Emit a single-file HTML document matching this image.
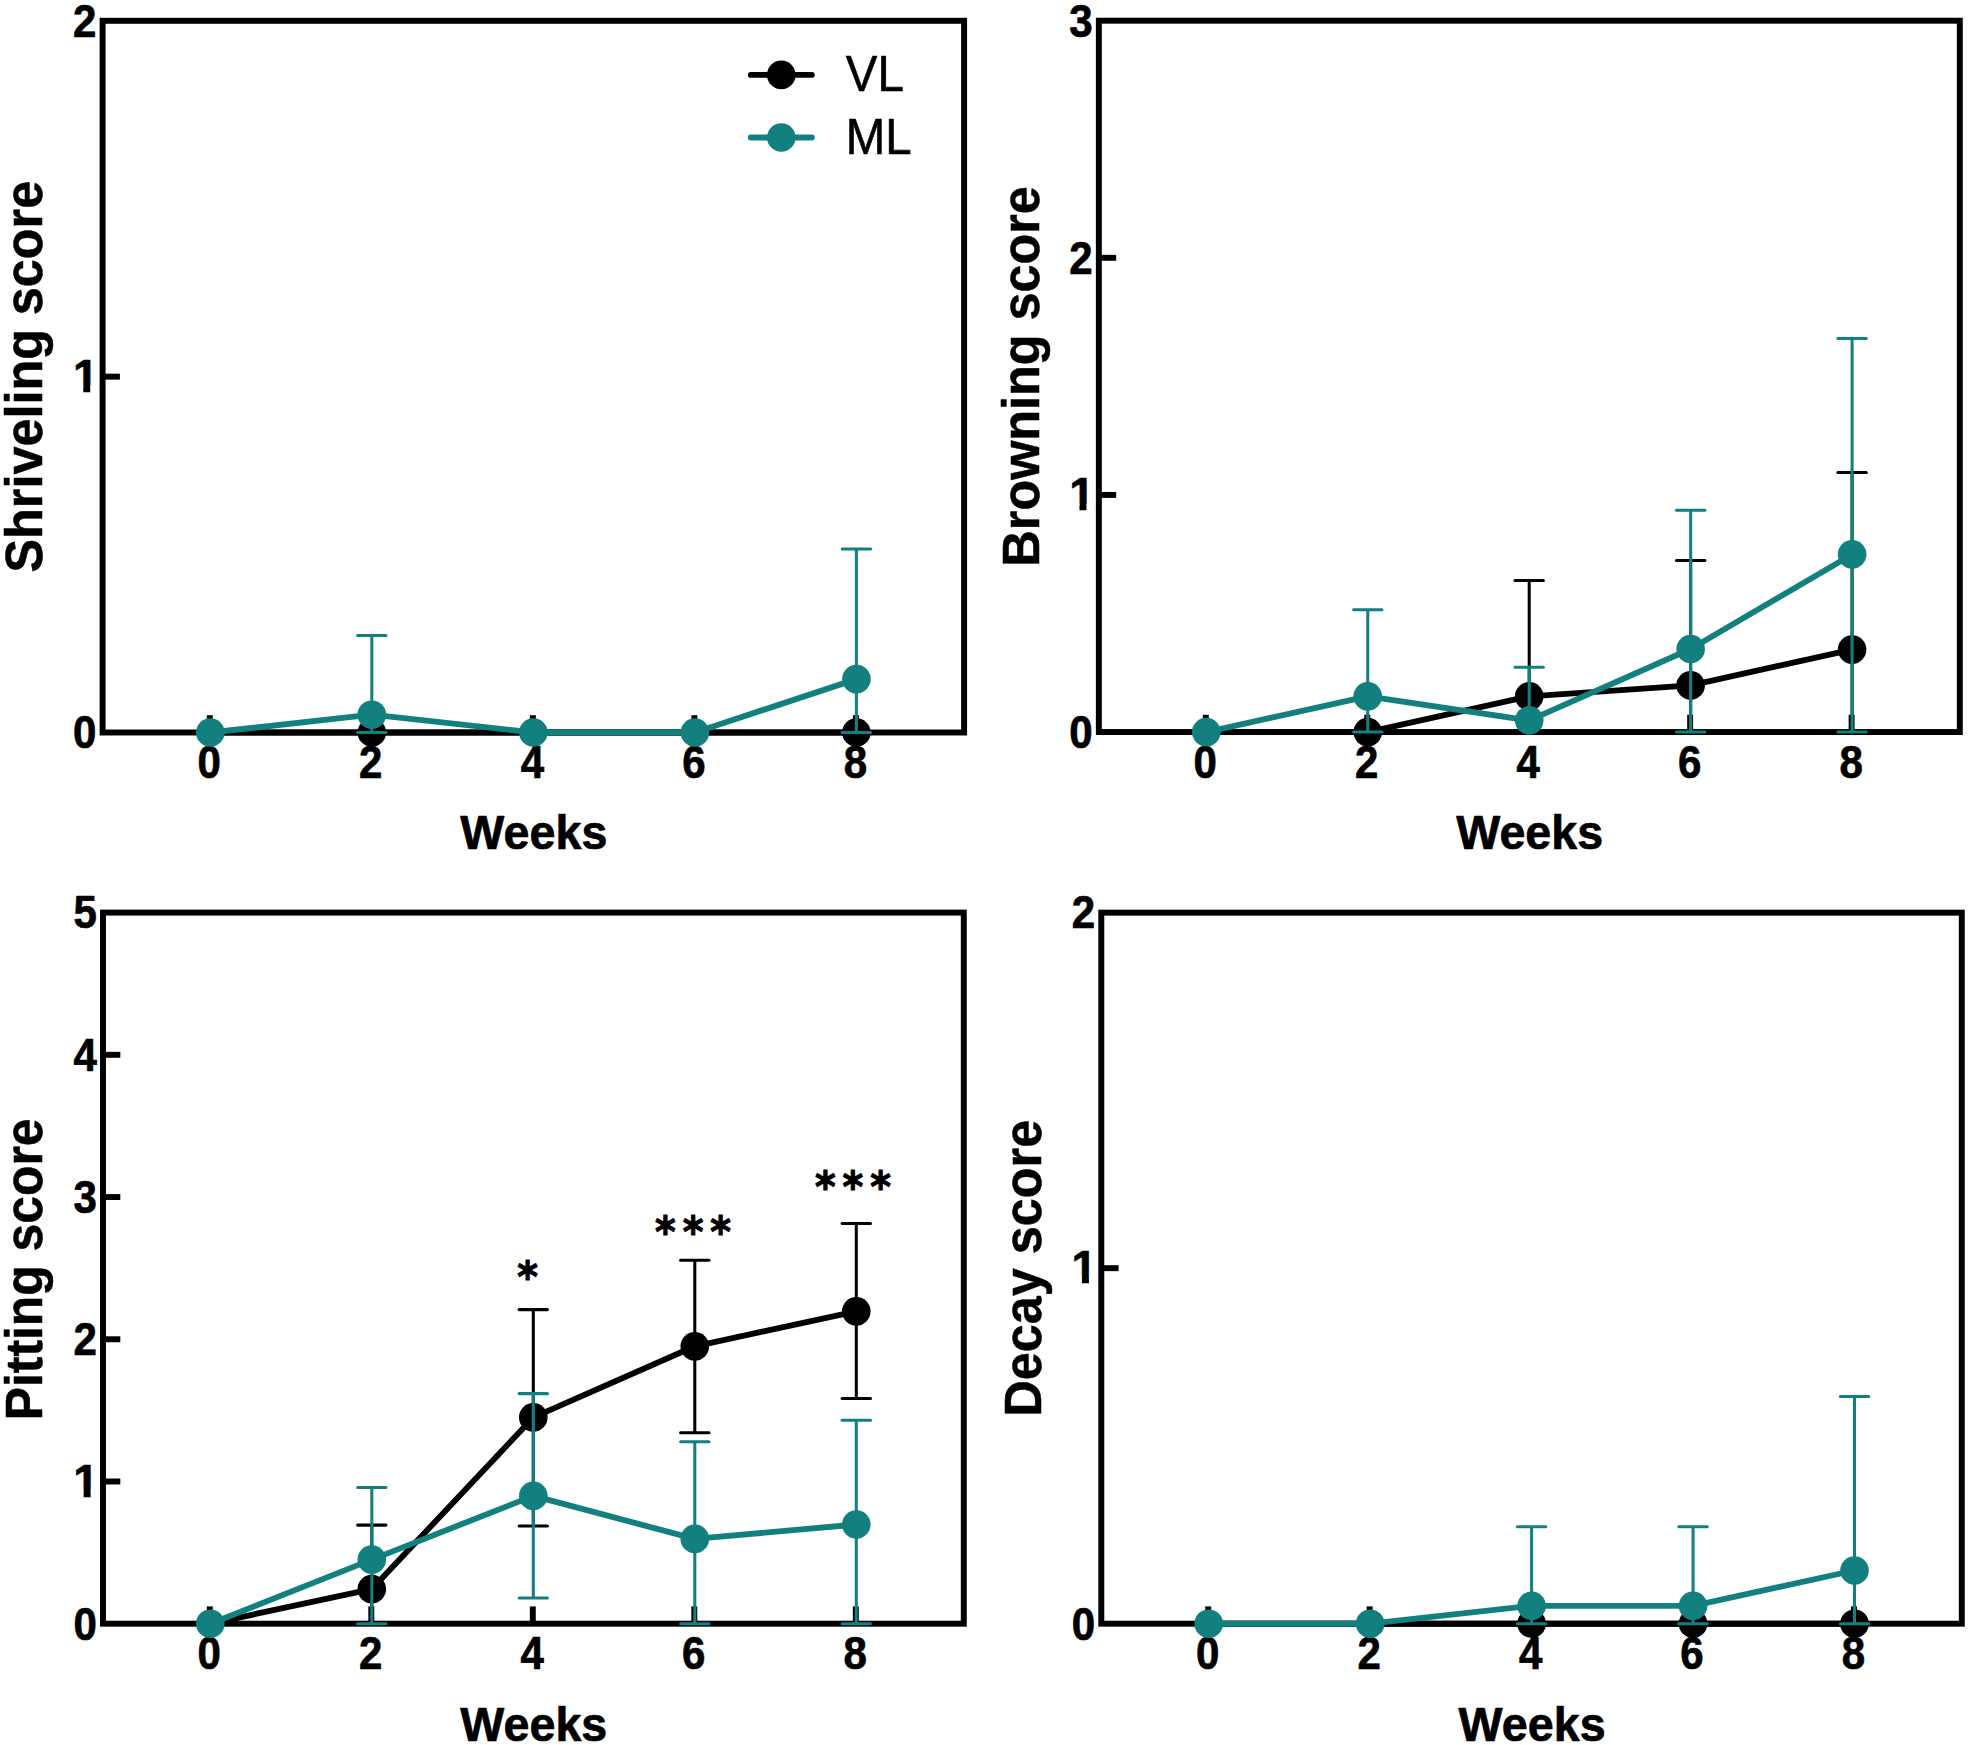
<!DOCTYPE html>
<html lang="en">
<head>
<meta charset="utf-8">
<title>Shriveling, browning, pitting and decay scores over weeks</title>
<style>
html,body{margin:0;padding:0;background:#fff;}
body{width:1969px;height:1745px;overflow:hidden;}
svg{display:block;}
text{font-family:'Liberation Sans', Arial, Helvetica, sans-serif;fill:#000;stroke:#000;stroke-linejoin:round;}
.tk{font-size:44.5px;font-weight:700;stroke-width:0.7px;}
.xt{font-size:48px;font-weight:700;stroke-width:0.7px;}
.yt{font-size:50px;font-weight:700;stroke-width:0.5px;}
.lg{font-size:49px;font-weight:400;stroke-width:0.6px;}
.st{font-family:'DejaVu Sans','Liberation Sans',sans-serif;font-size:39.6px;font-weight:700;letter-spacing:6.9px;stroke-width:1px;}
</style>
</head>
<body>
<svg width="1969" height="1745" viewBox="0 0 1969 1745">
<rect width="1969" height="1745" fill="#fff"/>
<g>
<rect x="102.6" y="20.8" width="861.5" height="711.7" fill="none" stroke="#000" stroke-width="5.95"/>
<line x1="102.6" y1="376.65" x2="119.9" y2="376.65" stroke="#000" stroke-width="5.95"/>
<line x1="209.8" y1="732.5" x2="209.8" y2="715.2" stroke="#000" stroke-width="5.95"/>
<line x1="371.3" y1="732.5" x2="371.3" y2="715.2" stroke="#000" stroke-width="5.95"/>
<line x1="532.85" y1="732.5" x2="532.85" y2="715.2" stroke="#000" stroke-width="5.95"/>
<line x1="694.4" y1="732.5" x2="694.4" y2="715.2" stroke="#000" stroke-width="5.95"/>
<line x1="855.9" y1="732.5" x2="855.9" y2="715.2" stroke="#000" stroke-width="5.95"/>
<text class="tk" transform="translate(96.5 748.3) scale(0.945 1.035)" text-anchor="end">0</text>
<text class="tk" transform="translate(98.42 391.85) scale(1.03 1.035)" text-anchor="end">1</text>
<rect x="72.92" y="385.85" width="10.33" height="7.4" fill="#fff"/>
<rect x="90.22" y="385.85" width="7.9" height="7.4" fill="#fff"/>
<text class="tk" transform="translate(96.5 36.6) scale(0.945 1.035)" text-anchor="end">2</text>
<text class="tk" transform="translate(209.3 778.25) scale(0.945 1.035)" text-anchor="middle">0</text>
<text class="tk" transform="translate(370.8 778.25) scale(0.945 1.035)" text-anchor="middle">2</text>
<text class="tk" transform="translate(532.35 778.25) scale(0.945 1.035)" text-anchor="middle">4</text>
<text class="tk" transform="translate(693.9 778.25) scale(0.945 1.035)" text-anchor="middle">6</text>
<text class="tk" transform="translate(855.4 778.25) scale(0.945 1.035)" text-anchor="middle">8</text>
<text class="xt" transform="translate(533.85 849.4) scale(0.972 1)" text-anchor="middle">Weeks</text>
<text class="yt" transform="translate(42.4 376.65) rotate(-90) scale(1.007 1.05)" text-anchor="middle">Shriveling score</text>
<polyline points="210.3,732.5 371.8,732.5 533.35,732.5 694.9,732.5 856.4,732.5" fill="none" stroke="#000" stroke-width="5.85" stroke-linejoin="round"/>
<circle cx="210.3" cy="732.5" r="13.5" fill="#000"/>
<circle cx="371.8" cy="732.5" r="14.3" fill="#000"/>
<circle cx="533.35" cy="732.5" r="13.5" fill="#000"/>
<circle cx="694.9" cy="732.5" r="13.5" fill="#000"/>
<circle cx="856.4" cy="732.5" r="14.3" fill="#000"/>
<path d="M371.8 635.5V732.5" stroke="#11807F" stroke-width="3.05" fill="none"/>
<path d="M357.62 635.5H385.98" stroke="#11807F" stroke-width="3.05" stroke-linecap="round" fill="none"/>
<path d="M357.62 732.5H385.98" stroke="#11807F" stroke-width="3.05" stroke-linecap="round" fill="none"/>
<path d="M856.4 549V732.5" stroke="#11807F" stroke-width="3.05" fill="none"/>
<path d="M842.22 549H870.58" stroke="#11807F" stroke-width="3.05" stroke-linecap="round" fill="none"/>
<path d="M842.22 732.5H870.58" stroke="#11807F" stroke-width="3.05" stroke-linecap="round" fill="none"/>
<polyline points="210.3,732.5 371.8,714.7 533.35,732.5 694.9,732.5 856.4,679.1" fill="none" stroke="#11807F" stroke-width="5.85" stroke-linejoin="round"/>
<circle cx="210.3" cy="732.5" r="14.3" fill="#11807F"/>
<circle cx="371.8" cy="714.7" r="14.3" fill="#11807F"/>
<circle cx="533.35" cy="732.5" r="14.3" fill="#11807F"/>
<circle cx="694.9" cy="732.5" r="14.3" fill="#11807F"/>
<circle cx="856.4" cy="679.1" r="14.3" fill="#11807F"/>
</g>
<path d="M750.8 74.9H811.8" stroke="#000" stroke-width="5.9" stroke-linecap="round" fill="none"/>
<circle cx="781.3" cy="74.9" r="14.3" fill="#000"/>
<text class="lg" transform="translate(845.8 91.3) scale(0.967 1.027)">VL</text>
<path d="M750.8 137.5H811.8" stroke="#11807F" stroke-width="5.9" stroke-linecap="round" fill="none"/>
<circle cx="781.3" cy="137.5" r="14.3" fill="#11807F"/>
<text class="lg" transform="translate(845.8 153.9) scale(0.967 1.027)">ML</text>
<g>
<rect x="1098.85" y="20.7" width="860.95" height="711.35" fill="none" stroke="#000" stroke-width="5.95"/>
<line x1="1098.85" y1="494.93" x2="1116.15" y2="494.93" stroke="#000" stroke-width="5.95"/>
<line x1="1098.85" y1="257.82" x2="1116.15" y2="257.82" stroke="#000" stroke-width="5.95"/>
<line x1="1205.8" y1="732.05" x2="1205.8" y2="714.75" stroke="#000" stroke-width="5.95"/>
<line x1="1367.25" y1="732.05" x2="1367.25" y2="714.75" stroke="#000" stroke-width="5.95"/>
<line x1="1528.7" y1="732.05" x2="1528.7" y2="714.75" stroke="#000" stroke-width="5.95"/>
<line x1="1690.15" y1="732.05" x2="1690.15" y2="714.75" stroke="#000" stroke-width="5.95"/>
<line x1="1851.6" y1="732.05" x2="1851.6" y2="714.75" stroke="#000" stroke-width="5.95"/>
<text class="tk" transform="translate(1092.75 747.85) scale(0.945 1.035)" text-anchor="end">0</text>
<text class="tk" transform="translate(1094.67 510.13) scale(1.03 1.035)" text-anchor="end">1</text>
<rect x="1069.17" y="504.13" width="10.33" height="7.4" fill="#fff"/>
<rect x="1086.47" y="504.13" width="7.9" height="7.4" fill="#fff"/>
<text class="tk" transform="translate(1092.75 273.62) scale(0.945 1.035)" text-anchor="end">2</text>
<text class="tk" transform="translate(1092.75 36.5) scale(0.945 1.035)" text-anchor="end">3</text>
<text class="tk" transform="translate(1205.3 777.8) scale(0.945 1.035)" text-anchor="middle">0</text>
<text class="tk" transform="translate(1366.75 777.8) scale(0.945 1.035)" text-anchor="middle">2</text>
<text class="tk" transform="translate(1528.2 777.8) scale(0.945 1.035)" text-anchor="middle">4</text>
<text class="tk" transform="translate(1689.65 777.8) scale(0.945 1.035)" text-anchor="middle">6</text>
<text class="tk" transform="translate(1851.1 777.8) scale(0.945 1.035)" text-anchor="middle">8</text>
<text class="xt" transform="translate(1529.7 848.95) scale(0.972 1)" text-anchor="middle">Weeks</text>
<text class="yt" transform="translate(1039.3 376.38) rotate(-90) scale(1.007 1.05)" text-anchor="middle">Browning score</text>
<path d="M1529.2 580.5V696.3" stroke="#000" stroke-width="3.05" fill="none"/>
<path d="M1515.03 580.5H1543.38" stroke="#000" stroke-width="3.05" stroke-linecap="round" fill="none"/>
<path d="M1690.65 560.5V732.05" stroke="#000" stroke-width="3.05" fill="none"/>
<path d="M1676.48 560.5H1704.83" stroke="#000" stroke-width="3.05" stroke-linecap="round" fill="none"/>
<path d="M1676.48 732.05H1704.83" stroke="#000" stroke-width="3.05" stroke-linecap="round" fill="none"/>
<path d="M1852.1 472.5V732.05" stroke="#000" stroke-width="3.05" fill="none"/>
<path d="M1837.92 472.5H1866.27" stroke="#000" stroke-width="3.05" stroke-linecap="round" fill="none"/>
<path d="M1837.92 732.05H1866.27" stroke="#000" stroke-width="3.05" stroke-linecap="round" fill="none"/>
<polyline points="1206.3,732.05 1367.75,732.05 1529.2,696.3 1690.65,685.4 1852.1,649.6" fill="none" stroke="#000" stroke-width="5.85" stroke-linejoin="round"/>
<circle cx="1206.3" cy="732.05" r="13.5" fill="#000"/>
<circle cx="1367.75" cy="732.05" r="14.3" fill="#000"/>
<circle cx="1529.2" cy="696.3" r="14.3" fill="#000"/>
<circle cx="1690.65" cy="685.4" r="14.3" fill="#000"/>
<circle cx="1852.1" cy="649.6" r="14.3" fill="#000"/>
<path d="M1367.75 609.7V732.05" stroke="#11807F" stroke-width="3.05" fill="none"/>
<path d="M1353.58 609.7H1381.92" stroke="#11807F" stroke-width="3.05" stroke-linecap="round" fill="none"/>
<path d="M1353.58 732.05H1381.92" stroke="#11807F" stroke-width="3.05" stroke-linecap="round" fill="none"/>
<path d="M1529.2 667.3V720.4" stroke="#11807F" stroke-width="3.05" fill="none"/>
<path d="M1515.03 667.3H1543.38" stroke="#11807F" stroke-width="3.05" stroke-linecap="round" fill="none"/>
<path d="M1690.65 510.3V732.05" stroke="#11807F" stroke-width="3.05" fill="none"/>
<path d="M1676.48 510.3H1704.83" stroke="#11807F" stroke-width="3.05" stroke-linecap="round" fill="none"/>
<path d="M1676.48 732.05H1704.83" stroke="#11807F" stroke-width="3.05" stroke-linecap="round" fill="none"/>
<path d="M1852.1 338.4V732.05" stroke="#11807F" stroke-width="3.05" fill="none"/>
<path d="M1837.92 338.4H1866.27" stroke="#11807F" stroke-width="3.05" stroke-linecap="round" fill="none"/>
<path d="M1837.92 732.05H1866.27" stroke="#11807F" stroke-width="3.05" stroke-linecap="round" fill="none"/>
<polyline points="1206.3,732.05 1367.75,696.3 1529.2,720.4 1690.65,649 1852.1,554.4" fill="none" stroke="#11807F" stroke-width="5.85" stroke-linejoin="round"/>
<circle cx="1206.3" cy="732.05" r="14.3" fill="#11807F"/>
<circle cx="1367.75" cy="696.3" r="14.3" fill="#11807F"/>
<circle cx="1529.2" cy="720.4" r="14.3" fill="#11807F"/>
<circle cx="1690.65" cy="649" r="14.3" fill="#11807F"/>
<circle cx="1852.1" cy="554.4" r="14.3" fill="#11807F"/>
</g>
<g>
<rect x="103" y="912.6" width="860.8" height="711.1" fill="none" stroke="#000" stroke-width="5.95"/>
<line x1="103" y1="1481.48" x2="120.3" y2="1481.48" stroke="#000" stroke-width="5.95"/>
<line x1="103" y1="1339.26" x2="120.3" y2="1339.26" stroke="#000" stroke-width="5.95"/>
<line x1="103" y1="1197.04" x2="120.3" y2="1197.04" stroke="#000" stroke-width="5.95"/>
<line x1="103" y1="1054.82" x2="120.3" y2="1054.82" stroke="#000" stroke-width="5.95"/>
<line x1="209.8" y1="1623.7" x2="209.8" y2="1606.4" stroke="#000" stroke-width="5.95"/>
<line x1="371.3" y1="1623.7" x2="371.3" y2="1606.4" stroke="#000" stroke-width="5.95"/>
<line x1="532.8" y1="1623.7" x2="532.8" y2="1606.4" stroke="#000" stroke-width="5.95"/>
<line x1="694.3" y1="1623.7" x2="694.3" y2="1606.4" stroke="#000" stroke-width="5.95"/>
<line x1="855.8" y1="1623.7" x2="855.8" y2="1606.4" stroke="#000" stroke-width="5.95"/>
<text class="tk" transform="translate(96.9 1639.5) scale(0.945 1.035)" text-anchor="end">0</text>
<text class="tk" transform="translate(98.82 1496.68) scale(1.03 1.035)" text-anchor="end">1</text>
<rect x="73.32" y="1490.68" width="10.33" height="7.4" fill="#fff"/>
<rect x="90.62" y="1490.68" width="7.9" height="7.4" fill="#fff"/>
<text class="tk" transform="translate(96.9 1355.06) scale(0.945 1.035)" text-anchor="end">2</text>
<text class="tk" transform="translate(96.9 1212.84) scale(0.945 1.035)" text-anchor="end">3</text>
<text class="tk" transform="translate(96.9 1070.62) scale(0.945 1.035)" text-anchor="end">4</text>
<text class="tk" transform="translate(96.9 928.4) scale(0.945 1.035)" text-anchor="end">5</text>
<text class="tk" transform="translate(209.3 1669.45) scale(0.945 1.035)" text-anchor="middle">0</text>
<text class="tk" transform="translate(370.8 1669.45) scale(0.945 1.035)" text-anchor="middle">2</text>
<text class="tk" transform="translate(532.3 1669.45) scale(0.945 1.035)" text-anchor="middle">4</text>
<text class="tk" transform="translate(693.8 1669.45) scale(0.945 1.035)" text-anchor="middle">6</text>
<text class="tk" transform="translate(855.3 1669.45) scale(0.945 1.035)" text-anchor="middle">8</text>
<text class="xt" transform="translate(533.8 1740.6) scale(0.972 1)" text-anchor="middle">Weeks</text>
<text class="yt" transform="translate(42.4 1269.35) rotate(-90) scale(0.997 1.05)" text-anchor="middle">Pitting score</text>
<path d="M371.8 1525.1V1623.7" stroke="#000" stroke-width="3.05" fill="none"/>
<path d="M357.62 1525.1H385.98" stroke="#000" stroke-width="3.05" stroke-linecap="round" fill="none"/>
<path d="M357.62 1623.7H385.98" stroke="#000" stroke-width="3.05" stroke-linecap="round" fill="none"/>
<path d="M533.3 1309.6V1526" stroke="#000" stroke-width="3.05" fill="none"/>
<path d="M519.12 1309.6H547.48" stroke="#000" stroke-width="3.05" stroke-linecap="round" fill="none"/>
<path d="M519.12 1526H547.48" stroke="#000" stroke-width="3.05" stroke-linecap="round" fill="none"/>
<path d="M694.8 1260.3V1432.8" stroke="#000" stroke-width="3.05" fill="none"/>
<path d="M680.62 1260.3H708.98" stroke="#000" stroke-width="3.05" stroke-linecap="round" fill="none"/>
<path d="M680.62 1432.8H708.98" stroke="#000" stroke-width="3.05" stroke-linecap="round" fill="none"/>
<path d="M856.3 1223.4V1398.5" stroke="#000" stroke-width="3.05" fill="none"/>
<path d="M842.12 1223.4H870.48" stroke="#000" stroke-width="3.05" stroke-linecap="round" fill="none"/>
<path d="M842.12 1398.5H870.48" stroke="#000" stroke-width="3.05" stroke-linecap="round" fill="none"/>
<polyline points="210.3,1623.7 371.8,1589.1 533.3,1417.4 694.8,1346.3 856.3,1311.3" fill="none" stroke="#000" stroke-width="5.85" stroke-linejoin="round"/>
<circle cx="210.3" cy="1623.7" r="13.5" fill="#000"/>
<circle cx="371.8" cy="1589.1" r="14.3" fill="#000"/>
<circle cx="533.3" cy="1417.4" r="14.3" fill="#000"/>
<circle cx="694.8" cy="1346.3" r="14.3" fill="#000"/>
<circle cx="856.3" cy="1311.3" r="14.3" fill="#000"/>
<path d="M371.8 1487.5V1623.7" stroke="#11807F" stroke-width="3.05" fill="none"/>
<path d="M357.62 1487.5H385.98" stroke="#11807F" stroke-width="3.05" stroke-linecap="round" fill="none"/>
<path d="M357.62 1623.7H385.98" stroke="#11807F" stroke-width="3.05" stroke-linecap="round" fill="none"/>
<path d="M533.3 1393.6V1597.9" stroke="#11807F" stroke-width="3.05" fill="none"/>
<path d="M519.12 1393.6H547.48" stroke="#11807F" stroke-width="3.05" stroke-linecap="round" fill="none"/>
<path d="M519.12 1597.9H547.48" stroke="#11807F" stroke-width="3.05" stroke-linecap="round" fill="none"/>
<path d="M694.8 1441.7V1623.7" stroke="#11807F" stroke-width="3.05" fill="none"/>
<path d="M680.62 1441.7H708.98" stroke="#11807F" stroke-width="3.05" stroke-linecap="round" fill="none"/>
<path d="M680.62 1623.7H708.98" stroke="#11807F" stroke-width="3.05" stroke-linecap="round" fill="none"/>
<path d="M856.3 1420.2V1623.7" stroke="#11807F" stroke-width="3.05" fill="none"/>
<path d="M842.12 1420.2H870.48" stroke="#11807F" stroke-width="3.05" stroke-linecap="round" fill="none"/>
<path d="M842.12 1623.7H870.48" stroke="#11807F" stroke-width="3.05" stroke-linecap="round" fill="none"/>
<polyline points="210.3,1623.7 371.8,1559.6 533.3,1495.9 694.8,1538.9 856.3,1524.5" fill="none" stroke="#11807F" stroke-width="5.85" stroke-linejoin="round"/>
<circle cx="210.3" cy="1623.7" r="14.3" fill="#11807F"/>
<circle cx="371.8" cy="1559.6" r="14.3" fill="#11807F"/>
<circle cx="533.3" cy="1495.9" r="14.3" fill="#11807F"/>
<circle cx="694.8" cy="1538.9" r="14.3" fill="#11807F"/>
<circle cx="856.3" cy="1524.5" r="14.3" fill="#11807F"/>
<text class="st" transform="translate(517.35 1291.9) scale(1 1.06)">*</text><text class="st" transform="translate(655.05 1246.5) scale(1 1.06)">***</text><text class="st" transform="translate(815 1201.9) scale(1 1.06)">***</text>
</g>
<g>
<rect x="1101.3" y="912.65" width="860.5" height="711.05" fill="none" stroke="#000" stroke-width="5.95"/>
<line x1="1101.3" y1="1268.17" x2="1118.6" y2="1268.17" stroke="#000" stroke-width="5.95"/>
<line x1="1208.2" y1="1623.7" x2="1208.2" y2="1606.4" stroke="#000" stroke-width="5.95"/>
<line x1="1369.65" y1="1623.7" x2="1369.65" y2="1606.4" stroke="#000" stroke-width="5.95"/>
<line x1="1531.1" y1="1623.7" x2="1531.1" y2="1606.4" stroke="#000" stroke-width="5.95"/>
<line x1="1692.55" y1="1623.7" x2="1692.55" y2="1606.4" stroke="#000" stroke-width="5.95"/>
<line x1="1854" y1="1623.7" x2="1854" y2="1606.4" stroke="#000" stroke-width="5.95"/>
<text class="tk" transform="translate(1095.2 1639.5) scale(0.945 1.035)" text-anchor="end">0</text>
<text class="tk" transform="translate(1097.12 1283.38) scale(1.03 1.035)" text-anchor="end">1</text>
<rect x="1071.62" y="1277.38" width="10.33" height="7.4" fill="#fff"/>
<rect x="1088.92" y="1277.38" width="7.9" height="7.4" fill="#fff"/>
<text class="tk" transform="translate(1095.2 928.45) scale(0.945 1.035)" text-anchor="end">2</text>
<text class="tk" transform="translate(1207.7 1669.45) scale(0.945 1.035)" text-anchor="middle">0</text>
<text class="tk" transform="translate(1369.15 1669.45) scale(0.945 1.035)" text-anchor="middle">2</text>
<text class="tk" transform="translate(1530.6 1669.45) scale(0.945 1.035)" text-anchor="middle">4</text>
<text class="tk" transform="translate(1692.05 1669.45) scale(0.945 1.035)" text-anchor="middle">6</text>
<text class="tk" transform="translate(1853.5 1669.45) scale(0.945 1.035)" text-anchor="middle">8</text>
<text class="xt" transform="translate(1532.1 1740.6) scale(0.972 1)" text-anchor="middle">Weeks</text>
<text class="yt" transform="translate(1040.9 1268.17) rotate(-90) scale(1.007 1.05)" text-anchor="middle">Decay score</text>
<polyline points="1208.7,1623.7 1370.15,1623.7 1531.6,1623.7 1693.05,1623.7 1854.5,1623.7" fill="none" stroke="#000" stroke-width="5.85" stroke-linejoin="round"/>
<circle cx="1208.7" cy="1623.7" r="13.5" fill="#000"/>
<circle cx="1370.15" cy="1623.7" r="13.5" fill="#000"/>
<circle cx="1531.6" cy="1623.7" r="14.3" fill="#000"/>
<circle cx="1693.05" cy="1623.7" r="14.3" fill="#000"/>
<circle cx="1854.5" cy="1623.7" r="14.3" fill="#000"/>
<path d="M1531.6 1526.8V1623.7" stroke="#11807F" stroke-width="3.05" fill="none"/>
<path d="M1517.42 1526.8H1545.77" stroke="#11807F" stroke-width="3.05" stroke-linecap="round" fill="none"/>
<path d="M1517.42 1623.7H1545.77" stroke="#11807F" stroke-width="3.05" stroke-linecap="round" fill="none"/>
<path d="M1693.05 1526.8V1623.7" stroke="#11807F" stroke-width="3.05" fill="none"/>
<path d="M1678.88 1526.8H1707.22" stroke="#11807F" stroke-width="3.05" stroke-linecap="round" fill="none"/>
<path d="M1678.88 1623.7H1707.22" stroke="#11807F" stroke-width="3.05" stroke-linecap="round" fill="none"/>
<path d="M1854.5 1396.4V1623.7" stroke="#11807F" stroke-width="3.05" fill="none"/>
<path d="M1840.33 1396.4H1868.67" stroke="#11807F" stroke-width="3.05" stroke-linecap="round" fill="none"/>
<path d="M1840.33 1623.7H1868.67" stroke="#11807F" stroke-width="3.05" stroke-linecap="round" fill="none"/>
<polyline points="1208.7,1623.7 1370.15,1623.7 1531.6,1605.8 1693.05,1605.8 1854.5,1570.5" fill="none" stroke="#11807F" stroke-width="5.85" stroke-linejoin="round"/>
<circle cx="1208.7" cy="1623.7" r="14.3" fill="#11807F"/>
<circle cx="1370.15" cy="1623.7" r="14.3" fill="#11807F"/>
<circle cx="1531.6" cy="1605.8" r="14.3" fill="#11807F"/>
<circle cx="1693.05" cy="1605.8" r="14.3" fill="#11807F"/>
<circle cx="1854.5" cy="1570.5" r="14.3" fill="#11807F"/>
</g>
</svg>
</body>
</html>
